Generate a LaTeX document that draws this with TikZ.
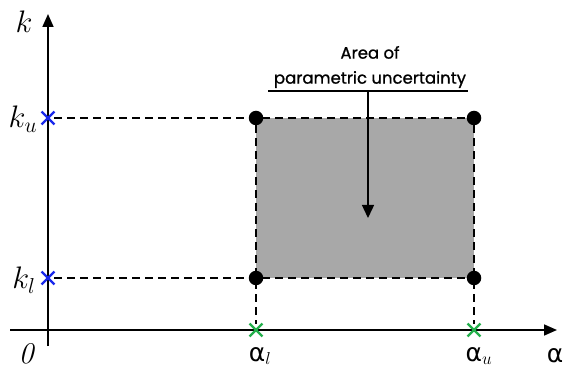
\documentclass[tikz,border=0pt]{standalone}
\usepackage{fontspec}
\newfontfamily\areafont[FakeBold=1]{Poppins}
\newfontfamily\greekfont{DejaVu Sans}
\usetikzlibrary{arrows.meta,shapes.misc}
\definecolor{kblue}{RGB}{25,40,235}
\definecolor{agreen}{RGB}{35,175,75}
\definecolor{areagray}{RGB}{168,168,168}
\newcommand{\klabel}[1]{\scalebox{1.5}{\fontsize{20}{24}\selectfont$#1$}}
\tikzset{
  axis/.style={line width=1.6pt, -{Triangle[length=13pt,width=11pt]}},
  guide/.style={line width=1.3pt, dash pattern=on 8pt off 5pt},
  corner/.style={circle, fill, inner sep=0pt, minimum size=14.5pt},
  kcross/.style={cross out, draw=kblue, line width=2.4pt, inner sep=0pt, minimum size=10.5pt},
  across/.style={cross out, draw=agreen, line width=2.4pt, inner sep=0pt, minimum size=10.5pt},
  mathlabel/.style={inner sep=0pt},
  alabel/.style={font=\fontsize{25}{28}\greekfont, inner sep=0pt},
  every picture/.style={x=1pt, y=-1pt}
}
\begin{document}
\begin{tikzpicture}
  \useasboundingbox (0,0) rectangle (564,371);
  % axes
  \coordinate (xstart) at (10,330);
  \coordinate (xend) at (557,330);
  \coordinate (ystart) at (48,346);
  \coordinate (yend) at (48,14);
  \draw[axis] (xstart) -- (xend);
  \draw[axis] (ystart) -- (yend);
  % area of uncertainty
  \fill[areagray] (256,118) rectangle (474,278);
  \node[corner] (tl) at (256,118) {};
  \node[corner] (tr) at (474,118) {};
  \node[corner] (bl) at (256,278) {};
  \node[corner] (br) at (474,278) {};
  \node[kcross] (ku) at (48,118) {};
  \node[kcross] (kl) at (48,278) {};
  \node[across] (al) at (256,330) {};
  \node[across] (au) at (474,330) {};
  \draw[guide] (ku) -- (tr);
  \draw[guide] (kl) -- (br);
  \draw[guide] (tl) -- (al);
  \draw[guide] (tr) -- (au);
  % labels
  \node[mathlabel] (klab) at (24,22) {\klabel{k}};
  \node[mathlabel] (kulab) at (23,119) {\klabel{k_u}};
  \node[mathlabel] (kllab) at (24,280) {\klabel{k_l}};
  \node[mathlabel] (olab) at (26,354) {\klabel{\mathit{0}}};
  \node[alabel] (allab) at (260,356) {α{\normalfont$_l$}};
  \node[alabel] (aulab) at (479,356) {α{\normalfont$_u$}};
  \node[alabel] (alab) at (555,356) {α};
  \node[font=\fontsize{16.5}{25}\areafont, align=center, inner sep=0pt] (areatext) at (370,67) {Area of\\parametric uncertainty};
  \coordinate (lineleft) at (268,91);
  \coordinate (lineright) at (468,91);
  \coordinate (linemid) at (368,91);
  \coordinate (tip) at (368,218);
  \draw[line width=1.2pt] (lineleft) -- (lineright);
  \draw[line width=1.4pt, -{Triangle[length=13pt,width=12pt]}] (linemid) -- (tip);
\end{tikzpicture}
\end{document}
